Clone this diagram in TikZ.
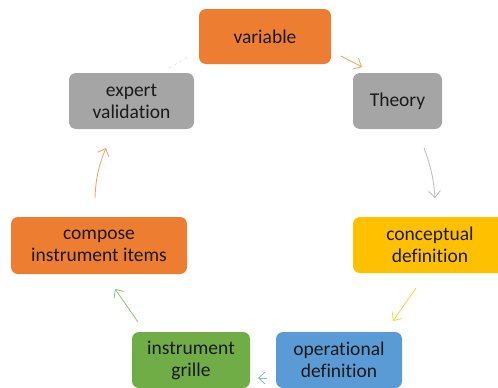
\documentclass[tikz,border=0pt]{standalone}
\usepackage{fontspec}
\setmainfont{Carlito}[Ligatures=NoCommon]
\usetikzlibrary{arrows.meta}
\definecolor{cOrange}{HTML}{ED7D31}
\definecolor{cGray}{HTML}{A5A5A5}
\definecolor{cYellow}{HTML}{FFC000}
\definecolor{cBlue}{HTML}{5B9BD5}
\definecolor{cGreen}{HTML}{70AD47}
\definecolor{cText}{HTML}{1A1A1A}
\tikzset{
  box/.style={rounded corners=7pt, inner sep=0pt, align=center, text=cText,
    font=\fontsize{19.5}{22}\selectfont},
  conn/.style={line width=0.8pt, -{Straight Barb[length=6.5pt,width=12pt]}},
}
\begin{document}
\begin{tikzpicture}[x=1pt,y=-1pt]
\useasboundingbox (0,0) rectangle (498,388);
\clip (0,0) rectangle (498,388);
\node[box, fill=cOrange, minimum width=132pt, minimum height=55pt] (var) at (265,36.5) {variable};
\node[box, fill=cGray, minimum width=89pt, minimum height=56pt] (theo) at (397.5,101) {Theory};
\node[box, fill=cYellow, minimum width=154pt, minimum height=56pt] (conc) at (430,245) {conceptual\\definition};
\node[box, fill=cBlue, minimum width=126pt, minimum height=56pt] (oper) at (339,360) {operational\\definition};
\node[box, fill=cGreen, minimum width=118pt, minimum height=56pt] (gril) at (191,360) {instrument\\grille};
\node[box, fill=cOrange, minimum width=176pt, minimum height=57pt] (comp) at (99,245.5) {compose\\instrument items};
\node[box, fill=cGray, minimum width=125pt, minimum height=56pt] (expe) at (131.5,101) {expert\\validation};
% arrow end points
\coordinate (a1s) at (341,56);
\coordinate (a1e) at (362,67);
\coordinate (a2s) at (424,148);
\coordinate (a2e) at (435,198);
\coordinate (a3s) at (416,288);
\coordinate (a3e) at (393,321);
\coordinate (a4s) at (267,378);
\coordinate (a4e) at (258,378);
\coordinate (a5s) at (138,322);
\coordinate (a5e) at (115,289);
\coordinate (a6s) at (95,198);
\coordinate (a6e) at (106,148);
\coordinate (a7s) at (169,68);
\coordinate (a7e) at (190,56);
\draw[conn, draw=cOrange!75] (a1s) -- (a1e);
\draw[conn, draw=cGray!75] (a2s) to[bend left=8] (a2e);
\draw[conn, draw=cYellow!75] (a3s) -- (a3e);
\draw[conn, draw=cBlue!75] (a4s) -- (a4e);
\draw[conn, draw=cGreen!75] (a5s) -- (a5e);
\draw[conn, draw=cOrange!75] (a6s) to[bend left=10] (a6e);
\draw[line width=0.6pt, draw=cGray!40, dashed] (a7s) -- (a7e);
\end{tikzpicture}
\end{document}
